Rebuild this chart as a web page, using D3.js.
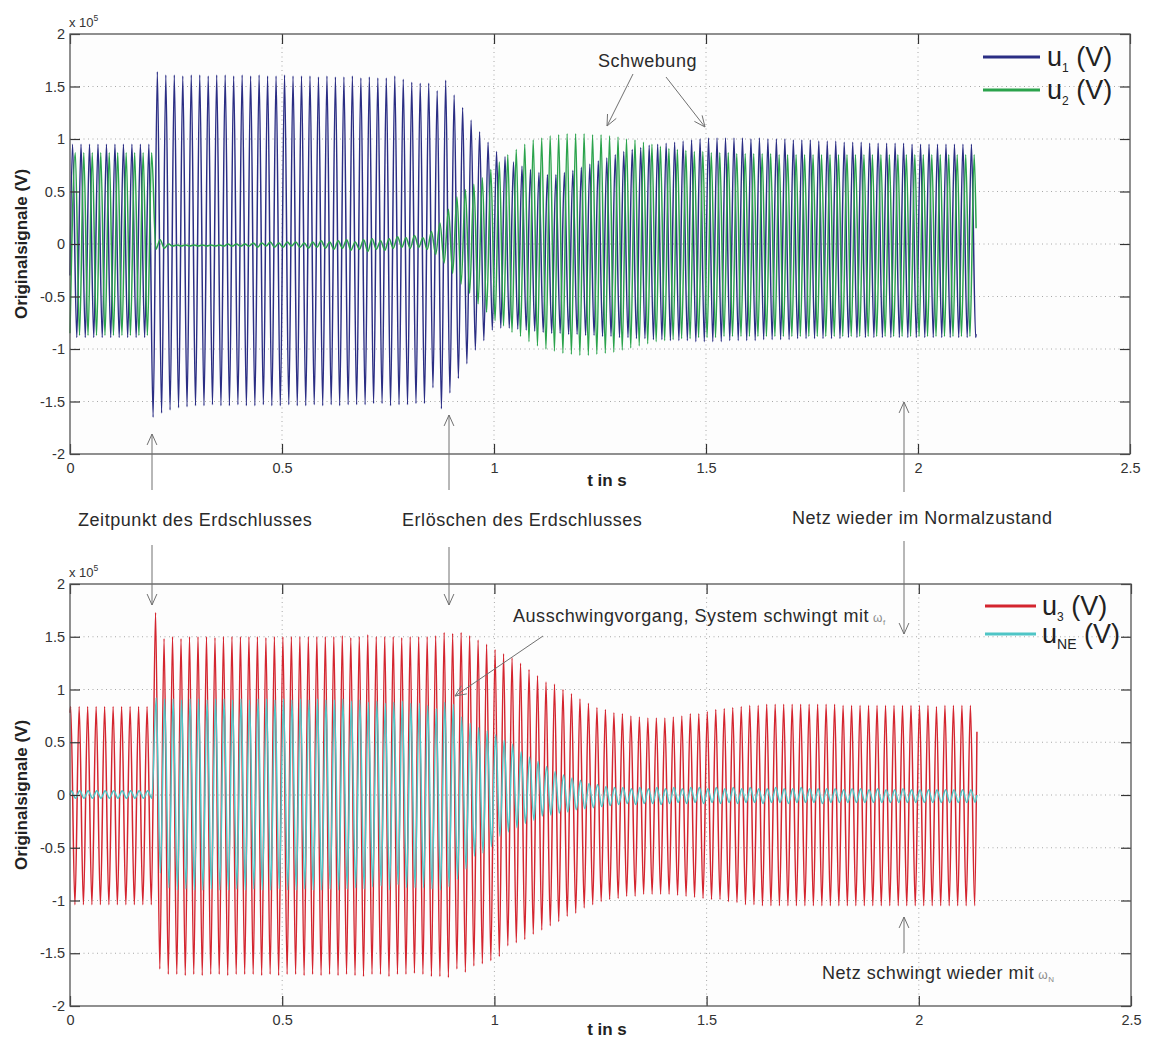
<!DOCTYPE html>
<html>
<head>
<meta charset="utf-8">
<script src="https://cdn.jsdelivr.net/npm/d3@7"></script>
<style>
  html, body { margin: 0; padding: 0; background: #ffffff; }
  svg { display: block; font-family: "Liberation Sans", Arial, sans-serif; }
  .tick text { font-size: 14.5px; fill: #333; }
  .ann { font-size: 18px; letter-spacing: 0.55px; fill: #2a2a2a; }
</style>
</head>
<body>
<svg id="chart" width="1149" height="1040"></svg>
<script>
// ---- time base: one extremum pair (peak, trough) per 50 Hz cycle ----
const PERIOD = 0.02;      // s
const T_END = 2.137;      // end of record, s

// Tick values
const xTicks = [0, 0.5, 1, 1.5, 2, 2.5];
const yTicks = [-2, -1.5, -1, -0.5, 0, 0.5, 1, 1.5, 2];

// ---- u1 (V, x 1e5): peak of cycle k at u1Phase + k*PERIOD, trough half a period later ----
const u1Phase = 0.006;
const u1Peaks = [
  0.95, 0.95, 0.95, 0.95, 0.95, 0.95, 0.95, 0.95, 0.95, 0.95,
  1.64, 1.61, 1.61, 1.60, 1.61, 1.61, 1.60, 1.61, 1.61, 1.60,
  1.61, 1.60, 1.61, 1.60, 1.60, 1.61, 1.60, 1.60, 1.60, 1.59,
  1.60, 1.59, 1.59, 1.60, 1.58, 1.59, 1.58, 1.58, 1.60, 1.57,
  1.54, 1.53, 1.53, 1.46, 1.56, 1.42, 1.30, 1.18, 1.07, 0.97,
  0.88, 0.83, 0.78, 0.74, 0.71, 0.68, 0.66, 0.66, 0.68, 0.70,
  0.73, 0.76, 0.79, 0.82, 0.85, 0.88, 0.90, 0.92, 0.94, 0.95,
  0.96, 0.97, 0.98, 0.99, 1.00, 1.01, 1.01, 1.01, 1.01, 1.01,
  1.00, 1.01, 1.00, 1.00, 1.00, 0.99, 0.99, 0.99, 0.98, 0.98,
  0.98, 0.97, 0.97, 0.97, 0.96, 0.96, 0.96, 0.96, 0.96, 0.95,
  0.95, 0.95, 0.95, 0.95, 0.95, 0.95, 0.95
];
const u1Troughs = [
  -0.89, -0.89, -0.89, -0.89, -0.89, -0.89, -0.89, -0.89, -0.89, -1.65,
  -1.61, -1.58, -1.56, -1.55, -1.54, -1.54, -1.53, -1.54, -1.54, -1.53,
  -1.54, -1.54, -1.53, -1.54, -1.54, -1.53, -1.54, -1.54, -1.53, -1.54,
  -1.53, -1.54, -1.53, -1.53, -1.53, -1.52, -1.52, -1.54, -1.53, -1.53,
  -1.52, -1.52, -1.37, -1.57, -1.42, -1.28, -1.14, -1.01, -0.92, -0.82,
  -0.80, -0.80, -0.81, -0.82, -0.83, -0.84, -0.85, -0.85, -0.86, -0.86,
  -0.87, -0.87, -0.88, -0.88, -0.89, -0.89, -0.90, -0.90, -0.91, -0.91,
  -0.92, -0.92, -0.92, -0.93, -0.93, -0.93, -0.93, -0.92, -0.92, -0.92,
  -0.92, -0.91, -0.91, -0.91, -0.91, -0.90, -0.90, -0.90, -0.90, -0.90,
  -0.90, -0.89, -0.89, -0.89, -0.89, -0.89, -0.89, -0.89, -0.89, -0.89,
  -0.89, -0.89, -0.89, -0.89, -0.89, -0.89, -0.89
];
const u1Ends = [-0.30, -0.86];

// ---- u2 ----
const u2Phase = 0.0125;
const u2Peaks = [
  0.87, 0.87, 0.87, 0.87, 0.87, 0.87, 0.87, 0.87, 0.87, 0.87,
  0.04, 0.00, -0.01, -0.01, -0.01, -0.01, -0.01, -0.01, 0.00, 0.00,
  0.00, 0.01, 0.01, 0.02, 0.01, 0.02, 0.02, 0.01, 0.02, 0.03,
  0.02, 0.03, 0.04, 0.02, 0.04, 0.05, 0.03, 0.05, 0.07, 0.06,
  0.08, 0.06, 0.12, 0.20, 0.33, 0.45, 0.52, 0.57, 0.63, 0.71,
  0.78, 0.85, 0.90, 0.95, 0.99, 1.01, 1.03, 1.04, 1.05, 1.05,
  1.05, 1.04, 1.04, 1.03, 1.02, 1.00, 0.99, 0.97, 0.95, 0.93,
  0.91, 0.90, 0.89, 0.88, 0.88, 0.87, 0.87, 0.87, 0.86, 0.86,
  0.86, 0.86, 0.86, 0.85, 0.85, 0.85, 0.85, 0.85, 0.85, 0.85,
  0.85, 0.85, 0.85, 0.85, 0.85, 0.85, 0.85, 0.85, 0.85, 0.85,
  0.85, 0.85, 0.85, 0.85, 0.85, 0.85, 0.85
];
const u2Troughs = [
  -0.87, -0.87, -0.87, -0.87, -0.87, -0.87, -0.87, -0.87, -0.87, -0.05,
  -0.04, -0.02, -0.02, -0.02, -0.02, -0.02, -0.02, -0.02, -0.02, -0.02,
  -0.02, -0.03, -0.02, -0.03, -0.03, -0.02, -0.03, -0.04, -0.03, -0.04,
  -0.05, -0.04, -0.06, -0.05, -0.07, -0.05, -0.06, -0.04, -0.03, -0.04,
  -0.03, -0.05, -0.10, -0.18, -0.28, -0.38, -0.47, -0.57, -0.65, -0.73,
  -0.78, -0.84, -0.88, -0.93, -0.97, -1.00, -1.02, -1.04, -1.05, -1.06,
  -1.06, -1.05, -1.04, -1.03, -1.01, -0.99, -0.97, -0.95, -0.93, -0.92,
  -0.91, -0.90, -0.90, -0.89, -0.89, -0.89, -0.88, -0.88, -0.88, -0.88,
  -0.88, -0.88, -0.88, -0.88, -0.88, -0.88, -0.88, -0.88, -0.88, -0.88,
  -0.88, -0.88, -0.88, -0.88, -0.88, -0.88, -0.88, -0.88, -0.88, -0.88,
  -0.88, -0.88, -0.88, -0.88, -0.88, -0.88, -0.88
];
const u2Ends = [-0.85, 0.15];

// ---- u3 ----
const u3Phase = 0.0016;
const u3Peaks = [
  0.84, 0.84, 0.84, 0.84, 0.84, 0.84, 0.84, 0.84, 0.84, 0.84,
  1.73, 1.48, 1.50, 1.48, 1.50, 1.50, 1.50, 1.49, 1.50, 1.50,
  1.50, 1.50, 1.50, 1.49, 1.50, 1.50, 1.50, 1.50, 1.50, 1.50,
  1.50, 1.50, 1.51, 1.49, 1.50, 1.52, 1.50, 1.50, 1.50, 1.49,
  1.50, 1.50, 1.50, 1.51, 1.54, 1.53, 1.54, 1.51, 1.47, 1.43,
  1.38, 1.34, 1.30, 1.25, 1.19, 1.13, 1.07, 1.05, 1.00, 0.96,
  0.91, 0.87, 0.83, 0.81, 0.78, 0.77, 0.75, 0.74, 0.73, 0.73,
  0.73, 0.74, 0.75, 0.77, 0.77, 0.79, 0.81, 0.82, 0.83, 0.84,
  0.85, 0.85, 0.86, 0.86, 0.86, 0.86, 0.86, 0.86, 0.86, 0.86,
  0.86, 0.85, 0.85, 0.85, 0.85, 0.85, 0.85, 0.85, 0.85, 0.85,
  0.85, 0.85, 0.84, 0.85, 0.85, 0.85, 0.85
];
const u3Troughs = [
  -1.04, -1.04, -1.04, -1.04, -1.04, -1.04, -1.04, -1.04, -1.04, -1.04,
  -1.65, -1.70, -1.70, -1.71, -1.70, -1.71, -1.70, -1.70, -1.71, -1.70,
  -1.70, -1.70, -1.71, -1.70, -1.71, -1.70, -1.70, -1.71, -1.70, -1.71,
  -1.70, -1.71, -1.70, -1.71, -1.72, -1.70, -1.70, -1.72, -1.70, -1.70,
  -1.69, -1.70, -1.72, -1.72, -1.73, -1.65, -1.68, -1.62, -1.60, -1.57,
  -1.53, -1.43, -1.40, -1.37, -1.32, -1.28, -1.24, -1.20, -1.15, -1.12,
  -1.07, -1.04, -1.01, -0.99, -0.98, -0.96, -0.96, -0.94, -0.94, -0.94,
  -0.94, -0.95, -0.96, -0.97, -0.98, -0.99, -0.99, -1.01, -1.02, -1.04,
  -1.04, -1.05, -1.05, -1.05, -1.05, -1.05, -1.05, -1.05, -1.05, -1.05,
  -1.05, -1.05, -1.05, -1.05, -1.05, -1.05, -1.05, -1.05, -1.05, -1.05,
  -1.05, -1.05, -1.05, -1.05, -1.05, -1.05, -1.05
];
const u3Ends = [0.78, 0.60];

// ---- uNE ----
const uNEPhase = 0.003;
const uNEPeaks = [
  0.04, 0.04, 0.04, 0.04, 0.04, 0.04, 0.04, 0.04, 0.04, 0.04,
  0.92, 0.91, 0.91, 0.90, 0.91, 0.91, 0.90, 0.91, 0.91, 0.90,
  0.91, 0.90, 0.91, 0.91, 0.90, 0.91, 0.90, 0.91, 0.90, 0.91,
  0.90, 0.90, 0.91, 0.89, 0.90, 0.88, 0.89, 0.87, 0.88, 0.89,
  0.87, 0.87, 0.85, 0.82, 0.88, 0.86, 0.74, 0.68, 0.64, 0.61,
  0.57, 0.52, 0.48, 0.41, 0.36, 0.32, 0.27, 0.22, 0.19, 0.16,
  0.14, 0.11, 0.10, 0.08, 0.07, 0.07, 0.06, 0.07, 0.06, 0.07,
  0.06, 0.07, 0.06, 0.07, 0.07, 0.06, 0.07, 0.06, 0.07, 0.06,
  0.07, 0.06, 0.06, 0.07, 0.06, 0.06, 0.07, 0.06, 0.06, 0.06,
  0.06, 0.05, 0.06, 0.06, 0.05, 0.06, 0.05, 0.05, 0.06, 0.05,
  0.05, 0.05, 0.05, 0.05, 0.05, 0.05, 0.05
];
const uNETroughs = [
  -0.03, -0.03, -0.03, -0.03, -0.03, -0.03, -0.03, -0.03, -0.03, -0.03,
  -0.74, -0.88, -0.90, -0.89, -0.90, -0.90, -0.89, -0.90, -0.90, -0.89,
  -0.90, -0.89, -0.90, -0.90, -0.89, -0.90, -0.90, -0.89, -0.90, -0.90,
  -0.89, -0.90, -0.89, -0.88, -0.89, -0.87, -0.86, -0.90, -0.85, -0.88,
  -0.88, -0.88, -0.89, -0.90, -0.87, -0.80, -0.70, -0.58, -0.55, -0.49,
  -0.39, -0.35, -0.31, -0.27, -0.24, -0.20, -0.19, -0.17, -0.16, -0.14,
  -0.13, -0.12, -0.11, -0.10, -0.09, -0.08, -0.09, -0.08, -0.08, -0.09,
  -0.08, -0.07, -0.08, -0.07, -0.08, -0.07, -0.08, -0.07, -0.08, -0.07,
  -0.07, -0.08, -0.07, -0.07, -0.08, -0.07, -0.07, -0.07, -0.08, -0.07,
  -0.07, -0.07, -0.07, -0.07, -0.07, -0.07, -0.07, -0.07, -0.07, -0.07,
  -0.07, -0.07, -0.07, -0.07, -0.07, -0.07, -0.07
];
const uNEEnds = [0.00, 0.00];

// ---------------------------------------------------------------------
const svg = d3.select("#chart");

// Turn per-cycle extrema into a polyline (t, value)
function extremaPoints(phase, peaks, troughs, ends) {
  const pts = [[0, ends[0]]];
  peaks.forEach((p, k) => {
    const tp = phase + k * PERIOD;
    pts.push([tp, p]);
    pts.push([tp + PERIOD / 2, troughs[k]]);
  });
  const inside = pts.filter((d, i) => i === 0 || (d[0] > 0 && d[0] < T_END));
  inside.push([T_END, ends[1]]);
  return inside;
}

const C_U1 = "#2b2e84", C_U2 = "#2ba34c", C_U3 = "#d4252f", C_UNE = "#4fc5c6";

const panels = [
  {
    box: { left: 70, right: 1130, top: 34, bottom: 454 },
    xTitleY: 486,
    series: [
      { color: C_U1, pts: extremaPoints(u1Phase, u1Peaks, u1Troughs, u1Ends) },
      { color: C_U2, pts: extremaPoints(u2Phase, u2Peaks, u2Troughs, u2Ends) }
    ],
    legend: { lineX: [983, 1040], textX: 1047, items: [
      { color: C_U1, sub: "1", y: 57 },
      { color: C_U2, sub: "2", y: 90 }
    ] }
  },
  {
    box: { left: 70, right: 1131, top: 584, bottom: 1006 },
    xTitleY: 1035,
    series: [
      { color: C_U3, pts: extremaPoints(u3Phase, u3Peaks, u3Troughs, u3Ends) },
      { color: C_UNE, pts: extremaPoints(uNEPhase, uNEPeaks, uNETroughs, uNEEnds) }
    ],
    legend: { lineX: [985, 1036], textX: 1042, items: [
      { color: C_U3, sub: "3", y: 606 },
      { color: C_UNE, sub: "NE", y: 634 }
    ] }
  }
];

const fmt = d => String(d);

panels.forEach(p => {
  const b = p.box;
  const x = d3.scaleLinear().domain([0, 2.5]).range([b.left, b.right]);
  const y = d3.scaleLinear().domain([-2, 2]).range([b.bottom, b.top]);
  const g = svg.append("g");

  // plot background
  g.append("rect").attr("x", b.left).attr("y", b.top)
    .attr("width", b.right - b.left).attr("height", b.bottom - b.top)
    .attr("fill", "#fdfdfd");

  // dotted grid
  const grid = g.append("g").attr("stroke", "#a8a8a8").attr("stroke-width", 1)
    .attr("stroke-dasharray", "1,3.5");
  xTicks.slice(1, -1).forEach(t => {
    grid.append("line").attr("x1", x(t)).attr("x2", x(t)).attr("y1", b.top).attr("y2", b.bottom);
  });
  yTicks.slice(1, -1).forEach(v => {
    grid.append("line").attr("x1", b.left).attr("x2", b.right).attr("y1", y(v)).attr("y2", y(v));
  });

  // signals
  const line = d3.line().x(d => x(d[0])).y(d => y(d[1])).curve(d3.curveMonotoneX);
  p.series.forEach(s => {
    g.append("path").datum(s.pts).attr("d", line)
      .attr("fill", "none").attr("stroke", s.color).attr("stroke-width", 1.5)
      .attr("stroke-linejoin", "round");
  });

  // axes (ticks pointing inward, labels on left/bottom only)
  const axL = g.append("g").attr("transform", `translate(${b.left},0)`)
    .call(d3.axisLeft(y).tickValues(yTicks).tickFormat(fmt).tickSizeInner(-10).tickSizeOuter(0).tickPadding(5));
  const axB = g.append("g").attr("transform", `translate(0,${b.bottom})`)
    .call(d3.axisBottom(x).tickValues(xTicks).tickFormat(fmt).tickSizeInner(-10).tickSizeOuter(0).tickPadding(9));
  const axR = g.append("g").attr("transform", `translate(${b.right},0)`)
    .call(d3.axisRight(y).tickValues(yTicks).tickFormat("").tickSizeInner(-10).tickSizeOuter(0));
  const axT = g.append("g").attr("transform", `translate(0,${b.top})`)
    .call(d3.axisTop(x).tickValues(xTicks).tickFormat("").tickSizeInner(-10).tickSizeOuter(0));
  [axL, axB, axR, axT].forEach(a => {
    a.select(".domain").remove();
    a.selectAll(".tick line").attr("stroke", "#333").attr("stroke-width", 1.2);
    a.selectAll(".tick text").attr("font-family", "'Liberation Sans', Arial, sans-serif");
  });

  // frame
  g.append("rect").attr("x", b.left).attr("y", b.top)
    .attr("width", b.right - b.left).attr("height", b.bottom - b.top)
    .attr("fill", "none").attr("stroke", "#555").attr("stroke-width", 1.3);

  // exponent label
  const ex = g.append("text").attr("x", b.left - 1).attr("y", b.top - 7)
    .attr("font-size", 13).attr("fill", "#333").text("x 10");
  ex.append("tspan").attr("dy", -6).attr("font-size", 8.5).text("5");

  // axis titles
  g.append("text")
    .attr("transform", `translate(${27},${(b.top + b.bottom) / 2}) rotate(-90)`)
    .attr("text-anchor", "middle").attr("font-size", 17).attr("font-weight", "bold")
    .attr("fill", "#222").text("Originalsignale (V)");
  g.append("text").attr("x", 607).attr("y", p.xTitleY)
    .attr("text-anchor", "middle").attr("font-size", 17).attr("font-weight", "bold")
    .attr("fill", "#222").text("t in s");

  // legend
  const L = p.legend;
  L.items.forEach(l => {
    g.append("line").attr("x1", L.lineX[0]).attr("x2", L.lineX[1]).attr("y1", l.y).attr("y2", l.y)
      .attr("stroke", l.color).attr("stroke-width", 3);
    const t = g.append("text").attr("x", L.textX).attr("y", l.y + 9)
      .attr("font-size", 27).attr("fill", "#222").text("u");
    t.append("tspan").attr("dy", 6).attr("font-size", l.sub.length > 1 ? 14 : 12).text(l.sub);
    t.append("tspan").attr("dy", -6).text(" (V)");
  });
});

// ---- annotations ----
const ann = svg.append("g");
function arrow(x1, y1, x2, y2) {
  // shaft from (x1,y1) to the head at (x2,y2) with an open "V" head
  const a = Math.atan2(y2 - y1, x2 - x1);
  const len = 12, spread = 0.42;
  const gA = ann.append("g").attr("stroke", "#707070").attr("stroke-width", 1).attr("fill", "none");
  gA.append("line").attr("x1", x1).attr("y1", y1).attr("x2", x2).attr("y2", y2);
  [a + Math.PI - spread, a + Math.PI + spread].forEach(h => {
    gA.append("line").attr("x1", x2).attr("y1", y2)
      .attr("x2", x2 + len * Math.cos(h)).attr("y2", y2 + len * Math.sin(h));
  });
}
function label(xp, yp, txt, omegaSub) {
  const t = ann.append("text").attr("class", "ann").attr("x", xp).attr("y", yp).text(txt);
  if (omegaSub) {
    t.append("tspan").attr("fill", "#8a8a8a").attr("font-size", 12).attr("dx", 4).text("\u03c9");
    t.append("tspan").attr("fill", "#8a8a8a").attr("font-size", 8).attr("dy", 3).text(omegaSub);
  }
}

// top panel
label(598, 67, "Schwebung");
arrow(633, 74, 607, 126);
arrow(666, 77, 705, 127);
arrow(152, 490, 152, 434);
arrow(449, 490, 449, 415);
arrow(904, 492, 904, 402);

// between panels
label(78, 526, "Zeitpunkt des Erdschlusses");
label(402, 526, "Erl\u00f6schen des Erdschlusses");
label(792, 524, "Netz wieder im Normalzustand");
arrow(152, 545, 152, 605);
arrow(449, 547, 449, 605);
arrow(904, 541, 904, 634);

// bottom panel
label(513, 622, "Ausschwingvorgang, System schwingt mit", "f");
arrow(543, 636, 455, 696);
label(822, 979, "Netz schwingt wieder mit", "N");
arrow(904, 953, 904, 917);
</script>
</body>
</html>
